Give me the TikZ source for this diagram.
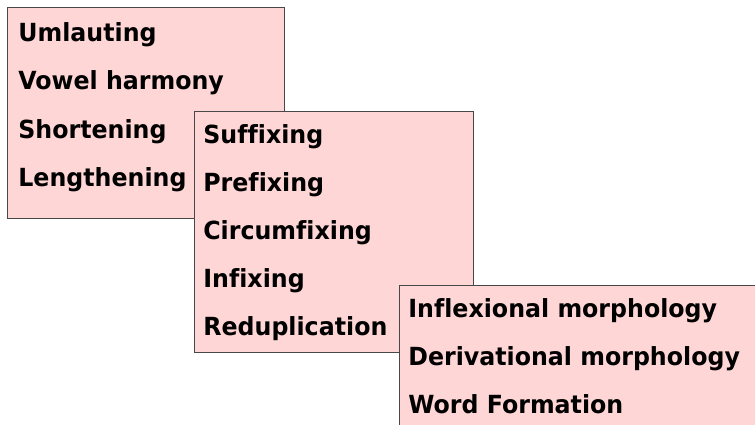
\documentclass[tikz,border=0pt]{standalone}
\usepackage{fontspec}
\setsansfont{DejaVu Sans}[FakeStretch=0.95,Ligatures=NoCommon]
\usetikzlibrary{positioning}
\definecolor{boxfill}{RGB}{255,214,214}
\definecolor{boxline}{RGB}{72,72,72}
\tikzset{
  pbox/.style={draw=boxline,fill=boxfill,line width=0.8pt,anchor=north west,inner sep=0pt},
  item/.style={font=\sffamily\bfseries\fontsize{14.2}{17}\selectfont,anchor=base west,inner sep=0pt},
}
\begin{document}
\begin{tikzpicture}[x=0.02cm,y=-0.02cm]
\useasboundingbox (0,0) rectangle (755,425);
\clip (0,0) rectangle (755,425);
% ================= Box A: stem changes =================
\node[pbox,minimum width=5.54cm,minimum height=4.22cm] (boxA) at (7,7) {};
\foreach \txt/\yy [count=\i] in {Umlauting/42, Vowel harmony/90, Shortening/139, Lengthening/187}{
  \node[item] (a\i) at (18,\yy) {\txt};
}
% ================= Box B: affixation =================
\node[pbox,minimum width=5.58cm,minimum height=4.82cm] (boxB) at (194,111) {};
\foreach \txt/\yy [count=\i] in {Suffixing/144, Prefixing/192, Circumfixing/240, Infixing/288, Reduplication/336}{
  \node[item] (b\i) at (203,\yy) {\txt};
}
% ================= Box C: morphology =================
\node[pbox,minimum width=7.5cm,minimum height=3.2cm] (boxC) at (399,285) {};
\foreach \txt/\yy [count=\i] in {Inflexional morphology/318, Derivational morphology/366, Word Formation/414}{
  \node[item] (c\i) at (408,\yy) {\txt};
}
\end{tikzpicture}
\end{document}
